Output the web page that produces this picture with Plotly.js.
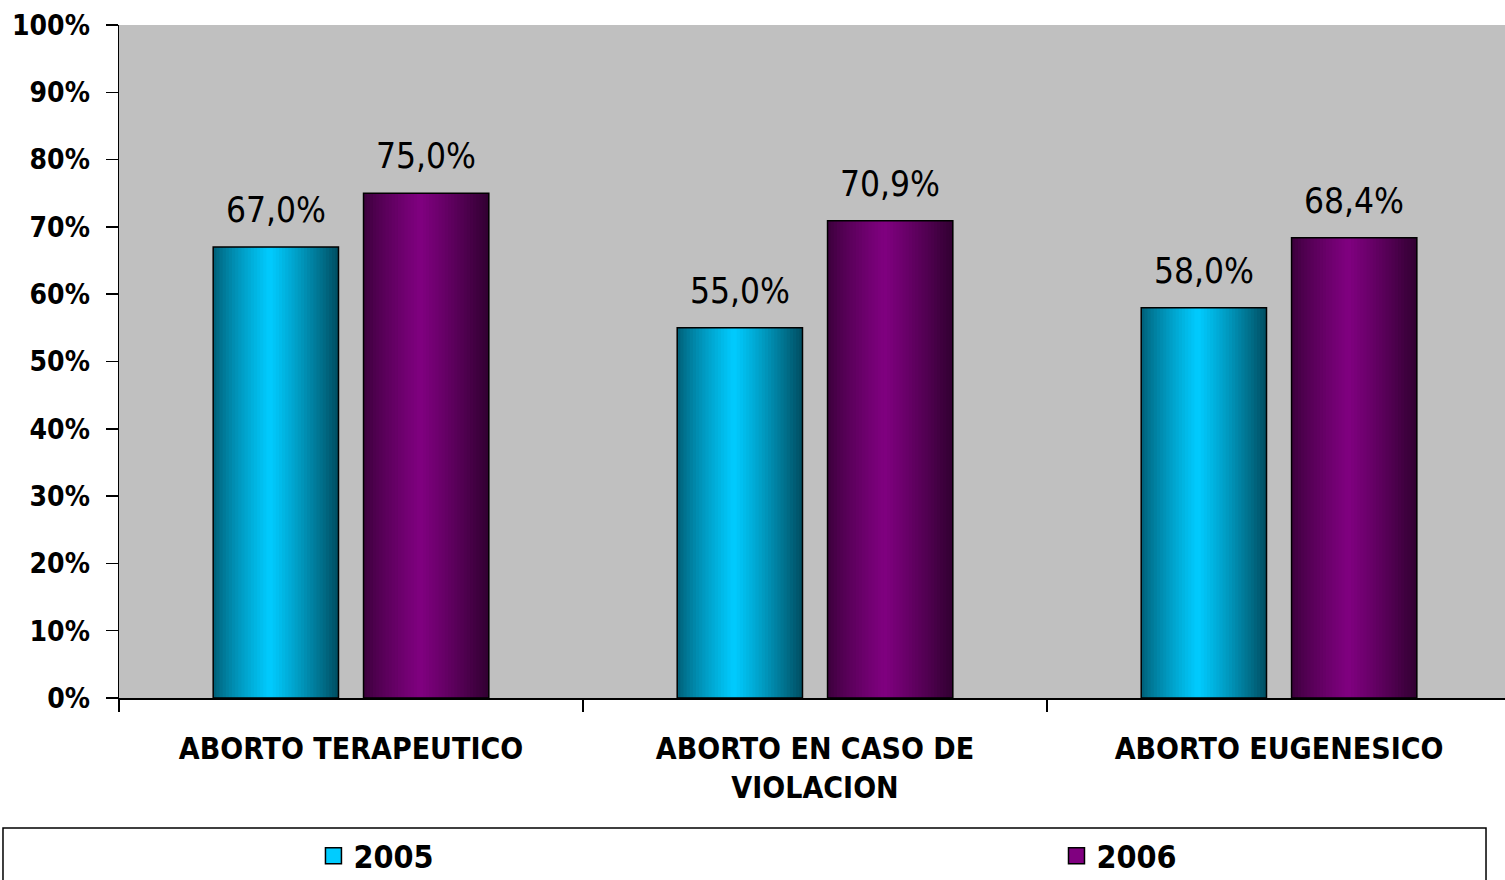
<!DOCTYPE html>
<html>
<head>
<meta charset="utf-8">
<script src="https://cdn.plot.ly/plotly-3.0.1.min.js"></script>
<style>html,body{margin:0;padding:0;background:#fff;}#chart{width:1505px;height:880px;}</style>
</head>
<body>
<div id="chart"></div>
<script>
// ---- data ----
const categories = ["ABORTO TERAPEUTICO", "ABORTO EN CASO DE<br>VIOLACION", "ABORTO EUGENESICO"];
const series2005 = [0.670, 0.550, 0.580];
const series2006 = [0.750, 0.709, 0.684];
const seriesNames = ["2005", "2006"];

// ---- style ----
const FONT = "DejaVu Sans Condensed, Liberation Sans Narrow, Arial Narrow, sans-serif";
const baseColors = [[0, 204, 255], [128, 0, 128]];
const barWidth = 0.27;
const barOffsets = [-0.297, 0.027];
const N = 40;

function shade(rgb, t) {
  // brightness profile across the bar: dark edges, bright near 45%
  let f;
  if (t < 0.45) f = 0.45 + 0.55 * Math.pow(t / 0.45, 0.8);
  else f = 1.0 - 0.62 * Math.pow((t - 0.45) / 0.55, 1.1);
  return 'rgb(' + rgb.map(c => Math.round(c * f)).join(',') + ')';
}
function fmtPct(v) { return (v * 100).toFixed(1).replace('.', ',') + '%'; }

const traces = [];
const annotations = [];
const allSeries = [series2005, series2006];
allSeries.forEach((vals, s) => {
  const w = barWidth / N;
  for (let i = 0; i < N; i++) {
    const col = shade(baseColors[s], (i + 0.5) / N);
    traces.push({
      type: 'bar', x: categories, y: vals,
      width: barWidth - i * w, offset: barOffsets[s] + i * w,
      marker: {color: col, line: {width: 0}},
      showlegend: false, hoverinfo: 'skip'
    });
  }
});
allSeries.forEach((vals, s) => {
  traces.push({
    type: 'bar', x: categories, y: vals,
    width: barWidth, offset: barOffsets[s],
    marker: {color: 'rgba(0,0,0,0)', line: {color: '#000', width: 1.5}},
    showlegend: false, hoverinfo: 'skip'
  });
  vals.forEach((v, k) => {
    annotations.push({
      xref: 'x', yref: 'y', x: k + barOffsets[s] + barWidth / 2, y: v,
      text: fmtPct(v), showarrow: false, xanchor: 'center', yanchor: 'bottom',
      yshift: 15, font: {family: FONT, size: 35, color: '#000'}
    });
  });
});
allSeries.forEach((vals, s) => {
  traces.push({
    type: 'scatter', mode: 'markers', x: [null], y: [null], name: seriesNames[s],
    legend: s === 0 ? 'legend' : 'legend2',
    marker: {symbol: 'square', size: 16, color: shade(baseColors[s], 0.45), line: {color: '#000', width: 1.5}},
    showlegend: true
  });
});

const legendFont = {family: FONT, size: 32, color: '#000', weight: 'bold'};
const layout = {
  width: 1505, height: 880,
  margin: {l: 119, r: 0, t: 25, b: 182, autoexpand: false},
  paper_bgcolor: '#ffffff', plot_bgcolor: '#C0C0C0',
  separators: ',.',
  barmode: 'overlay',
  showlegend: true,
  font: {family: FONT, color: '#000'},
  xaxis: {
    type: 'category', range: [-0.5, 2.487], fixedrange: true,
    showline: true, linecolor: '#000', linewidth: 1.5,
    ticks: 'outside', ticklen: 12, tickwidth: 1.5, tickcolor: '#000',
    tickson: 'boundaries', showgrid: false, zeroline: false,
    ticklabelstandoff: 23,
    tickfont: {family: FONT, size: 30, color: '#000', weight: 'bold'}
  },
  yaxis: {
    range: [0, 1], tickformat: '.0%', dtick: 0.1, tick0: 0,
    showline: true, linecolor: '#000', linewidth: 1.5,
    ticks: 'outside', ticklen: 12, tickwidth: 1.5, tickcolor: '#000',
    showgrid: false, zeroline: false, ticklabelstandoff: 10,
    tickfont: {family: FONT, size: 28, color: '#000', weight: 'bold'}
  },
  legend: {
    orientation: 'h', x: 0.1403, xanchor: 'left', y: -0.2348, yanchor: 'middle',
    bgcolor: 'rgba(0,0,0,0)', borderwidth: 0, font: legendFont
  },
  legend2: {
    orientation: 'h', x: 0.6764, xanchor: 'left', y: -0.2348, yanchor: 'middle',
    bgcolor: 'rgba(0,0,0,0)', borderwidth: 0, font: legendFont
  },
  annotations: annotations,
  shapes: [{
    type: 'rect', xref: 'paper', yref: 'paper',
    x0: -0.0837, x1: 0.9863, y0: -0.1932, y1: -0.32,
    line: {color: '#000', width: 1.5}, fillcolor: 'rgba(0,0,0,0)'
  }]
};

Plotly.newPlot('chart', traces, layout, {displayModeBar: false, staticPlot: true});
</script>
</body>
</html>
